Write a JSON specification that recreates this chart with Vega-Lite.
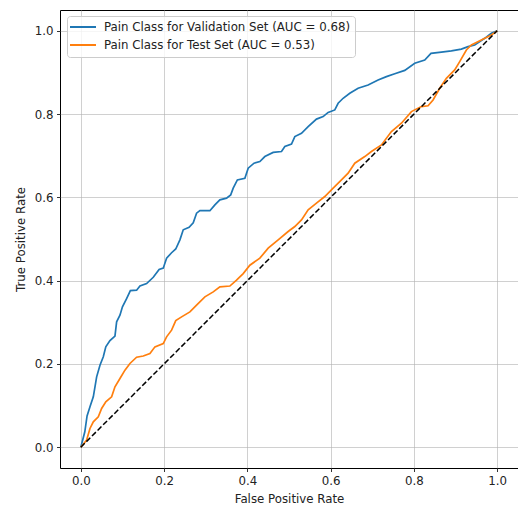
{
  "$schema": "https://vega.github.io/schema/vega-lite/v6.json",
  "width": 458,
  "height": 458,
  "autosize": {"type": "none"},
  "padding": {"left": 60, "top": 10, "right": 0, "bottom": 39},
  "background": "white",
  "config": {
    "font": "DejaVu Sans",
    "view": {"stroke": "black", "strokeWidth": 1},
    "axis": {
      "gridColor": "#b0b0b0",
      "gridOpacity": 0.6,
      "gridWidth": 1,
      "domain": false,
      "tickColor": "black",
      "tickSize": 3.5,
      "tickWidth": 0.8,
      "labelFontSize": 11.8,
      "labelColor": "#222222",
      "labelPadding": 3.5,
      "titleFontSize": 11.8,
      "titleFontWeight": "normal",
      "titleColor": "#222222"
    }
  },
  "datasets": {
    "curves": [
      {"series": "Pain Class for Validation Set (AUC = 0.68)", "fpr": 0.0, "tpr": 0.0},
      {"series": "Pain Class for Validation Set (AUC = 0.68)", "fpr": 0.0096, "tpr": 0.037},
      {"series": "Pain Class for Validation Set (AUC = 0.68)", "fpr": 0.015, "tpr": 0.075},
      {"series": "Pain Class for Validation Set (AUC = 0.68)", "fpr": 0.022, "tpr": 0.097},
      {"series": "Pain Class for Validation Set (AUC = 0.68)", "fpr": 0.030, "tpr": 0.121},
      {"series": "Pain Class for Validation Set (AUC = 0.68)", "fpr": 0.038, "tpr": 0.169},
      {"series": "Pain Class for Validation Set (AUC = 0.68)", "fpr": 0.046, "tpr": 0.197},
      {"series": "Pain Class for Validation Set (AUC = 0.68)", "fpr": 0.054, "tpr": 0.217},
      {"series": "Pain Class for Validation Set (AUC = 0.68)", "fpr": 0.060, "tpr": 0.241},
      {"series": "Pain Class for Validation Set (AUC = 0.68)", "fpr": 0.070, "tpr": 0.256},
      {"series": "Pain Class for Validation Set (AUC = 0.68)", "fpr": 0.082, "tpr": 0.267},
      {"series": "Pain Class for Validation Set (AUC = 0.68)", "fpr": 0.086, "tpr": 0.301},
      {"series": "Pain Class for Validation Set (AUC = 0.68)", "fpr": 0.094, "tpr": 0.317},
      {"series": "Pain Class for Validation Set (AUC = 0.68)", "fpr": 0.100, "tpr": 0.337},
      {"series": "Pain Class for Validation Set (AUC = 0.68)", "fpr": 0.110, "tpr": 0.357},
      {"series": "Pain Class for Validation Set (AUC = 0.68)", "fpr": 0.119, "tpr": 0.376},
      {"series": "Pain Class for Validation Set (AUC = 0.68)", "fpr": 0.134, "tpr": 0.377},
      {"series": "Pain Class for Validation Set (AUC = 0.68)", "fpr": 0.142, "tpr": 0.387},
      {"series": "Pain Class for Validation Set (AUC = 0.68)", "fpr": 0.158, "tpr": 0.393},
      {"series": "Pain Class for Validation Set (AUC = 0.68)", "fpr": 0.174, "tpr": 0.408},
      {"series": "Pain Class for Validation Set (AUC = 0.68)", "fpr": 0.188, "tpr": 0.427},
      {"series": "Pain Class for Validation Set (AUC = 0.68)", "fpr": 0.198, "tpr": 0.430},
      {"series": "Pain Class for Validation Set (AUC = 0.68)", "fpr": 0.206, "tpr": 0.454},
      {"series": "Pain Class for Validation Set (AUC = 0.68)", "fpr": 0.218, "tpr": 0.467},
      {"series": "Pain Class for Validation Set (AUC = 0.68)", "fpr": 0.228, "tpr": 0.476},
      {"series": "Pain Class for Validation Set (AUC = 0.68)", "fpr": 0.238, "tpr": 0.498},
      {"series": "Pain Class for Validation Set (AUC = 0.68)", "fpr": 0.246, "tpr": 0.522},
      {"series": "Pain Class for Validation Set (AUC = 0.68)", "fpr": 0.260, "tpr": 0.528},
      {"series": "Pain Class for Validation Set (AUC = 0.68)", "fpr": 0.270, "tpr": 0.539},
      {"series": "Pain Class for Validation Set (AUC = 0.68)", "fpr": 0.278, "tpr": 0.562},
      {"series": "Pain Class for Validation Set (AUC = 0.68)", "fpr": 0.286, "tpr": 0.568},
      {"series": "Pain Class for Validation Set (AUC = 0.68)", "fpr": 0.310, "tpr": 0.568},
      {"series": "Pain Class for Validation Set (AUC = 0.68)", "fpr": 0.322, "tpr": 0.582},
      {"series": "Pain Class for Validation Set (AUC = 0.68)", "fpr": 0.334, "tpr": 0.594},
      {"series": "Pain Class for Validation Set (AUC = 0.68)", "fpr": 0.350, "tpr": 0.598},
      {"series": "Pain Class for Validation Set (AUC = 0.68)", "fpr": 0.360, "tpr": 0.606},
      {"series": "Pain Class for Validation Set (AUC = 0.68)", "fpr": 0.366, "tpr": 0.622},
      {"series": "Pain Class for Validation Set (AUC = 0.68)", "fpr": 0.376, "tpr": 0.642},
      {"series": "Pain Class for Validation Set (AUC = 0.68)", "fpr": 0.394, "tpr": 0.646},
      {"series": "Pain Class for Validation Set (AUC = 0.68)", "fpr": 0.402, "tpr": 0.670},
      {"series": "Pain Class for Validation Set (AUC = 0.68)", "fpr": 0.416, "tpr": 0.682},
      {"series": "Pain Class for Validation Set (AUC = 0.68)", "fpr": 0.430, "tpr": 0.686},
      {"series": "Pain Class for Validation Set (AUC = 0.68)", "fpr": 0.442, "tpr": 0.698},
      {"series": "Pain Class for Validation Set (AUC = 0.68)", "fpr": 0.462, "tpr": 0.708},
      {"series": "Pain Class for Validation Set (AUC = 0.68)", "fpr": 0.482, "tpr": 0.710},
      {"series": "Pain Class for Validation Set (AUC = 0.68)", "fpr": 0.490, "tpr": 0.722},
      {"series": "Pain Class for Validation Set (AUC = 0.68)", "fpr": 0.506, "tpr": 0.728},
      {"series": "Pain Class for Validation Set (AUC = 0.68)", "fpr": 0.514, "tpr": 0.746},
      {"series": "Pain Class for Validation Set (AUC = 0.68)", "fpr": 0.530, "tpr": 0.754},
      {"series": "Pain Class for Validation Set (AUC = 0.68)", "fpr": 0.546, "tpr": 0.770},
      {"series": "Pain Class for Validation Set (AUC = 0.68)", "fpr": 0.566, "tpr": 0.788},
      {"series": "Pain Class for Validation Set (AUC = 0.68)", "fpr": 0.582, "tpr": 0.794},
      {"series": "Pain Class for Validation Set (AUC = 0.68)", "fpr": 0.594, "tpr": 0.804},
      {"series": "Pain Class for Validation Set (AUC = 0.68)", "fpr": 0.610, "tpr": 0.810},
      {"series": "Pain Class for Validation Set (AUC = 0.68)", "fpr": 0.618, "tpr": 0.826},
      {"series": "Pain Class for Validation Set (AUC = 0.68)", "fpr": 0.630, "tpr": 0.838},
      {"series": "Pain Class for Validation Set (AUC = 0.68)", "fpr": 0.646, "tpr": 0.850},
      {"series": "Pain Class for Validation Set (AUC = 0.68)", "fpr": 0.666, "tpr": 0.862},
      {"series": "Pain Class for Validation Set (AUC = 0.68)", "fpr": 0.690, "tpr": 0.870},
      {"series": "Pain Class for Validation Set (AUC = 0.68)", "fpr": 0.714, "tpr": 0.882},
      {"series": "Pain Class for Validation Set (AUC = 0.68)", "fpr": 0.734, "tpr": 0.890},
      {"series": "Pain Class for Validation Set (AUC = 0.68)", "fpr": 0.754, "tpr": 0.897},
      {"series": "Pain Class for Validation Set (AUC = 0.68)", "fpr": 0.778, "tpr": 0.905},
      {"series": "Pain Class for Validation Set (AUC = 0.68)", "fpr": 0.802, "tpr": 0.922},
      {"series": "Pain Class for Validation Set (AUC = 0.68)", "fpr": 0.826, "tpr": 0.930},
      {"series": "Pain Class for Validation Set (AUC = 0.68)", "fpr": 0.841, "tpr": 0.946},
      {"series": "Pain Class for Validation Set (AUC = 0.68)", "fpr": 0.866, "tpr": 0.949},
      {"series": "Pain Class for Validation Set (AUC = 0.68)", "fpr": 0.890, "tpr": 0.952},
      {"series": "Pain Class for Validation Set (AUC = 0.68)", "fpr": 0.914, "tpr": 0.956},
      {"series": "Pain Class for Validation Set (AUC = 0.68)", "fpr": 0.930, "tpr": 0.962},
      {"series": "Pain Class for Validation Set (AUC = 0.68)", "fpr": 0.946, "tpr": 0.966},
      {"series": "Pain Class for Validation Set (AUC = 0.68)", "fpr": 0.970, "tpr": 0.982},
      {"series": "Pain Class for Validation Set (AUC = 0.68)", "fpr": 0.986, "tpr": 0.994},
      {"series": "Pain Class for Validation Set (AUC = 0.68)", "fpr": 1.0, "tpr": 1.0},
      {"series": "Pain Class for Test Set (AUC = 0.53)", "fpr": 0.0, "tpr": 0.0},
      {"series": "Pain Class for Test Set (AUC = 0.53)", "fpr": 0.014, "tpr": 0.017},
      {"series": "Pain Class for Test Set (AUC = 0.53)", "fpr": 0.022, "tpr": 0.045},
      {"series": "Pain Class for Test Set (AUC = 0.53)", "fpr": 0.030, "tpr": 0.061},
      {"series": "Pain Class for Test Set (AUC = 0.53)", "fpr": 0.042, "tpr": 0.073},
      {"series": "Pain Class for Test Set (AUC = 0.53)", "fpr": 0.050, "tpr": 0.093},
      {"series": "Pain Class for Test Set (AUC = 0.53)", "fpr": 0.060, "tpr": 0.109},
      {"series": "Pain Class for Test Set (AUC = 0.53)", "fpr": 0.074, "tpr": 0.121},
      {"series": "Pain Class for Test Set (AUC = 0.53)", "fpr": 0.082, "tpr": 0.145},
      {"series": "Pain Class for Test Set (AUC = 0.53)", "fpr": 0.094, "tpr": 0.165},
      {"series": "Pain Class for Test Set (AUC = 0.53)", "fpr": 0.106, "tpr": 0.185},
      {"series": "Pain Class for Test Set (AUC = 0.53)", "fpr": 0.118, "tpr": 0.201},
      {"series": "Pain Class for Test Set (AUC = 0.53)", "fpr": 0.134, "tpr": 0.216},
      {"series": "Pain Class for Test Set (AUC = 0.53)", "fpr": 0.150, "tpr": 0.219},
      {"series": "Pain Class for Test Set (AUC = 0.53)", "fpr": 0.166, "tpr": 0.225},
      {"series": "Pain Class for Test Set (AUC = 0.53)", "fpr": 0.178, "tpr": 0.241},
      {"series": "Pain Class for Test Set (AUC = 0.53)", "fpr": 0.198, "tpr": 0.249},
      {"series": "Pain Class for Test Set (AUC = 0.53)", "fpr": 0.206, "tpr": 0.265},
      {"series": "Pain Class for Test Set (AUC = 0.53)", "fpr": 0.218, "tpr": 0.281},
      {"series": "Pain Class for Test Set (AUC = 0.53)", "fpr": 0.228, "tpr": 0.304},
      {"series": "Pain Class for Test Set (AUC = 0.53)", "fpr": 0.242, "tpr": 0.313},
      {"series": "Pain Class for Test Set (AUC = 0.53)", "fpr": 0.262, "tpr": 0.325},
      {"series": "Pain Class for Test Set (AUC = 0.53)", "fpr": 0.278, "tpr": 0.341},
      {"series": "Pain Class for Test Set (AUC = 0.53)", "fpr": 0.298, "tpr": 0.361},
      {"series": "Pain Class for Test Set (AUC = 0.53)", "fpr": 0.318, "tpr": 0.373},
      {"series": "Pain Class for Test Set (AUC = 0.53)", "fpr": 0.334, "tpr": 0.385},
      {"series": "Pain Class for Test Set (AUC = 0.53)", "fpr": 0.358, "tpr": 0.387},
      {"series": "Pain Class for Test Set (AUC = 0.53)", "fpr": 0.374, "tpr": 0.401},
      {"series": "Pain Class for Test Set (AUC = 0.53)", "fpr": 0.390, "tpr": 0.417},
      {"series": "Pain Class for Test Set (AUC = 0.53)", "fpr": 0.406, "tpr": 0.437},
      {"series": "Pain Class for Test Set (AUC = 0.53)", "fpr": 0.430, "tpr": 0.454},
      {"series": "Pain Class for Test Set (AUC = 0.53)", "fpr": 0.450, "tpr": 0.478},
      {"series": "Pain Class for Test Set (AUC = 0.53)", "fpr": 0.474, "tpr": 0.498},
      {"series": "Pain Class for Test Set (AUC = 0.53)", "fpr": 0.498, "tpr": 0.518},
      {"series": "Pain Class for Test Set (AUC = 0.53)", "fpr": 0.514, "tpr": 0.530},
      {"series": "Pain Class for Test Set (AUC = 0.53)", "fpr": 0.530, "tpr": 0.546},
      {"series": "Pain Class for Test Set (AUC = 0.53)", "fpr": 0.546, "tpr": 0.570},
      {"series": "Pain Class for Test Set (AUC = 0.53)", "fpr": 0.566, "tpr": 0.586},
      {"series": "Pain Class for Test Set (AUC = 0.53)", "fpr": 0.586, "tpr": 0.602},
      {"series": "Pain Class for Test Set (AUC = 0.53)", "fpr": 0.606, "tpr": 0.622},
      {"series": "Pain Class for Test Set (AUC = 0.53)", "fpr": 0.626, "tpr": 0.642},
      {"series": "Pain Class for Test Set (AUC = 0.53)", "fpr": 0.642, "tpr": 0.658},
      {"series": "Pain Class for Test Set (AUC = 0.53)", "fpr": 0.658, "tpr": 0.682},
      {"series": "Pain Class for Test Set (AUC = 0.53)", "fpr": 0.682, "tpr": 0.698},
      {"series": "Pain Class for Test Set (AUC = 0.53)", "fpr": 0.698, "tpr": 0.710},
      {"series": "Pain Class for Test Set (AUC = 0.53)", "fpr": 0.722, "tpr": 0.726},
      {"series": "Pain Class for Test Set (AUC = 0.53)", "fpr": 0.746, "tpr": 0.758},
      {"series": "Pain Class for Test Set (AUC = 0.53)", "fpr": 0.770, "tpr": 0.778},
      {"series": "Pain Class for Test Set (AUC = 0.53)", "fpr": 0.794, "tpr": 0.806},
      {"series": "Pain Class for Test Set (AUC = 0.53)", "fpr": 0.818, "tpr": 0.818},
      {"series": "Pain Class for Test Set (AUC = 0.53)", "fpr": 0.834, "tpr": 0.820},
      {"series": "Pain Class for Test Set (AUC = 0.53)", "fpr": 0.846, "tpr": 0.834},
      {"series": "Pain Class for Test Set (AUC = 0.53)", "fpr": 0.862, "tpr": 0.862},
      {"series": "Pain Class for Test Set (AUC = 0.53)", "fpr": 0.878, "tpr": 0.886},
      {"series": "Pain Class for Test Set (AUC = 0.53)", "fpr": 0.898, "tpr": 0.906},
      {"series": "Pain Class for Test Set (AUC = 0.53)", "fpr": 0.910, "tpr": 0.926},
      {"series": "Pain Class for Test Set (AUC = 0.53)", "fpr": 0.926, "tpr": 0.954},
      {"series": "Pain Class for Test Set (AUC = 0.53)", "fpr": 0.938, "tpr": 0.966},
      {"series": "Pain Class for Test Set (AUC = 0.53)", "fpr": 0.962, "tpr": 0.978},
      {"series": "Pain Class for Test Set (AUC = 0.53)", "fpr": 0.986, "tpr": 0.990},
      {"series": "Pain Class for Test Set (AUC = 0.53)", "fpr": 1.0, "tpr": 1.0}
    ],
    "diag": [
      {"fpr": 0, "tpr": 0},
      {"fpr": 1, "tpr": 1}
    ]
  },
  "layer": [
    {
      "data": {"name": "curves"},
      "mark": {"type": "line", "strokeWidth": 1.7, "clip": true},
      "encoding": {
        "x": {
          "field": "fpr", "type": "quantitative",
          "scale": {"domain": [-0.05, 1.05], "nice": false, "zero": false},
          "axis": {"title": "False Positive Rate", "values": [0, 0.2, 0.4, 0.6, 0.8, 1.0], "format": ".1f", "titlePadding": 7}
        },
        "y": {
          "field": "tpr", "type": "quantitative",
          "scale": {"domain": [-0.05, 1.05], "nice": false, "zero": false},
          "axis": {"title": "True Positive Rate", "values": [0, 0.2, 0.4, 0.6, 0.8, 1.0], "format": ".1f", "titlePadding": 8}
        },
        "color": {
          "field": "series", "type": "nominal",
          "scale": {
            "domain": ["Pain Class for Validation Set (AUC = 0.68)", "Pain Class for Test Set (AUC = 0.53)"],
            "range": ["#1f77b4", "#ff7f0e"]
          },
          "legend": {
            "title": null,
            "orient": "none",
            "legendX": 7,
            "legendY": 6,
            "symbolType": "M-2.6,0H2.6",
            "symbolSize": 100,
            "symbolStrokeWidth": 2,
            "symbolOffset": 5,
            "labelFontSize": 11.8,
            "labelColor": "#222222",
            "labelOffset": 15,
            "labelLimit": 0,
            "rowPadding": 5,
            "padding": 5,
            "fillColor": "rgba(255,255,255,0.8)",
            "strokeColor": "#cccccc",
            "cornerRadius": 3
          }
        }
      }
    },
    {
      "data": {"name": "diag"},
      "mark": {"type": "line", "color": "black", "strokeWidth": 1.5, "strokeDash": [5.5, 2.4]},
      "encoding": {
        "x": {"field": "fpr", "type": "quantitative"},
        "y": {"field": "tpr", "type": "quantitative"}
      }
    }
  ]
}
